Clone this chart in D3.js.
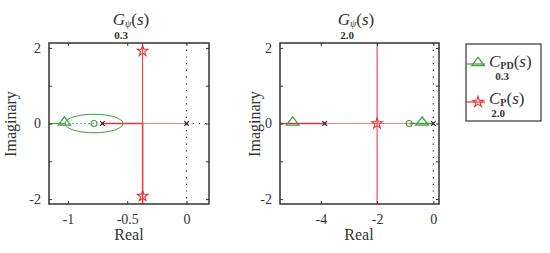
<!DOCTYPE html>
<html>
<head>
<meta charset="utf-8"/>
<script src="https://cdn.jsdelivr.net/npm/d3@7"></script>
<style>
html, body { margin: 0; padding: 0; background: #fff; }
svg text { font-family: "Liberation Serif", "DejaVu Serif", serif; fill: #333; }
</style>
</head>
<body>
<svg id="chart" width="550" height="253"></svg>
<script>
// ---- data ----
const gains = ["0.3", "2.0"];
const yTicks = [-2, 0, 2];
const yMinor = [-1, 1];
const leftXTicks = [-1, -0.5, 0];
const rightXTicks = [-4, -2, 0];

// left panel (0.3)
const leftPoles = [[-0.71, 0], [0, 0]];
const leftZeros = [[-0.78, 0]];
const leftPD = [[-1.03, 0]];
const leftP = [[-0.37, 1.92], [-0.37, -1.92]];
const leftCircle = [-0.78, 0.245];          // centre, radius of the PD locus
const leftGreenSolid = [[-1.16, 0], [-1.03, 0]];
const leftGreenDots = [[-1.03, 0], [-0.78, 0]];
const leftRedSolid = [[-0.71, 0], [-0.37, 0]];
const leftRedLight = [[-0.37, 0], [0, 0]];
const leftRedUp = [[-0.37, 0], [-0.37, 2.13]];
const leftRedDown = [[-0.37, 0], [-0.37, -2.13]];
const leftBlackDots = [[0, 0], [0.19, 0]];

// right panel (2.0)
const rightPoles = [[-3.86, 0], [0, 0]];
const rightZeros = [[-0.86, 0]];
const rightPD = [[-5.0, 0], [-0.4, 0]];
const rightP = [[-2.0, 0]];
const rightRedSolid = [[-5.45, 0], [-3.86, 0]];
const rightRedLight = [[-3.86, 0], [-0.86, 0]];
const rightGreenSolid = [[-0.86, 0], [0, 0]];
const rightRedVert = [[-2.0, -2.13], [-2.0, 2.13]];

const green = "#3f9c3f";
const red = "#e8333a";

const svg = d3.select("#chart");

const panels = [
  {x0: 49, x1: 209, dom: [-1.16, 0.19], ticks: leftXTicks, fmt: d => d === -1 ? "-1" : (d === 0 ? "0" : "-0.5"),
   titleX: 131, subX: 121, ylabX: 16, xlabX: 129, gain: gains[0],
   lines: [
     {pts: leftGreenSolid, c: green, w: 1.2},
     {pts: leftGreenDots, c: green, w: 1, dash: "1.5,2.5"},
     {pts: leftBlackDots, c: "#222", w: 1.2, dash: "1.2,5"},
     {pts: leftRedLight, c: red, w: 1, op: 0.6},
     {pts: leftRedSolid, c: red, w: 1.6},
     {pts: leftRedUp, c: red, w: 1},
     {pts: leftRedDown, c: red, w: 1.5}
   ],
   circle: leftCircle, poles: leftPoles, zeros: leftZeros, pd: leftPD, p: leftP},
  {x0: 280, x1: 439, dom: [-5.45, 0.2], ticks: rightXTicks, fmt: d => String(d),
   titleX: 356, subX: 347, ylabX: 260, xlabX: 359, gain: gains[1],
   lines: [
     {pts: rightRedLight, c: red, w: 1, op: 0.6},
     {pts: rightRedSolid, c: red, w: 1.6},
     {pts: rightGreenSolid, c: green, w: 1.5},
     {pts: rightRedVert, c: red, w: 1}
   ],
   circle: null, poles: rightPoles, zeros: rightZeros, pd: rightPD, p: rightP}
];

const y0 = 43, y1 = 204;
const star = d3.symbol().type(d3.symbolStar).size(36);
const tri = d3.symbol().type(d3.symbolTriangle).size(40);

panels.forEach(p => {
  const x = d3.scaleLinear().domain(p.dom).range([p.x0, p.x1]);
  const y = d3.scaleLinear().domain([-2.13, 2.13]).range([y1, y0]);
  const g = svg.append("g");
  const line = d3.line().x(d => x(d[0])).y(d => y(d[1]));

  g.append("defs").append("clipPath").attr("id", "clip" + p.x0)
    .append("rect").attr("x", p.x0).attr("y", y0).attr("width", p.x1 - p.x0).attr("height", y1 - y0);
  const plot = g.append("g").attr("clip-path", "url(#clip" + p.x0 + ")");

  // imaginary axis, dotted
  plot.append("line").attr("x1", x(0)).attr("x2", x(0)).attr("y1", y0).attr("y2", y1)
    .attr("stroke", "#222").attr("stroke-width", 1.2).attr("stroke-dasharray", "1.2,5.5");

  p.lines.forEach(l => {
    plot.append("path").attr("d", line(l.pts)).attr("fill", "none")
      .attr("stroke", l.c).attr("stroke-width", l.w)
      .attr("stroke-opacity", l.op || 1)
      .attr("stroke-dasharray", l.dash || null);
  });

  if (p.circle) {
    plot.append("ellipse").attr("cx", x(p.circle[0])).attr("cy", y(0))
      .attr("rx", x(p.circle[0] + p.circle[1]) - x(p.circle[0]))
      .attr("ry", y(0) - y(p.circle[1]))
      .attr("fill", "none").attr("stroke", green).attr("stroke-width", 1);
  }

  // markers
  plot.selectAll(".zero").data(p.zeros).join("circle")
    .attr("cx", d => x(d[0])).attr("cy", d => y(d[1])).attr("r", 3)
    .attr("fill", "none").attr("stroke", green).attr("stroke-width", 1.1);
  plot.selectAll(".pole").data(p.poles).join("path")
    .attr("d", d => `M${x(d[0]) - 2.3},${y(d[1]) - 2.3}L${x(d[0]) + 2.3},${y(d[1]) + 2.3}M${x(d[0]) - 2.3},${y(d[1]) + 2.3}L${x(d[0]) + 2.3},${y(d[1]) - 2.3}`)
    .attr("stroke", "#222").attr("stroke-width", 1.2);
  plot.selectAll(".pd").data(p.pd).join("path")
    .attr("d", tri).attr("transform", d => `translate(${x(d[0])},${y(d[1]) - 1.2}) scale(1.3,1)`)
    .attr("fill", "none").attr("stroke", green).attr("stroke-width", 1.1);
  plot.selectAll(".p").data(p.p).join("path")
    .attr("d", star).attr("transform", d => `translate(${x(d[0])},${y(d[1])})`)
    .attr("fill", "none").attr("stroke", red).attr("stroke-width", 1.1);

  // frame
  g.append("rect").attr("x", p.x0).attr("y", y0).attr("width", p.x1 - p.x0).attr("height", y1 - y0)
    .attr("fill", "none").attr("stroke", "#333").attr("stroke-width", 1.5);

  // axes with inward ticks
  g.append("g").attr("transform", `translate(0,${y1})`)
    .call(d3.axisBottom(x).tickValues(p.ticks).tickSize(-3).tickPadding(8).tickFormat(p.fmt))
    .call(a => a.select(".domain").remove())
    .call(a => a.selectAll("text").attr("font-size", 14).attr("dy", "0.85em"));
  g.append("g").attr("transform", `translate(0,${y0})`)
    .call(d3.axisTop(x).tickValues(p.ticks).tickSize(-3).tickFormat(""))
    .call(a => a.select(".domain").remove());
  g.append("g").attr("transform", `translate(${p.x0},0)`)
    .call(d3.axisLeft(y).tickValues(yTicks.concat(yMinor)).tickSize(-3).tickPadding(8)
      .tickFormat(d => yTicks.includes(d) ? String(d) : ""))
    .call(a => a.select(".domain").remove())
    .call(a => a.selectAll("text").attr("font-size", 14));
  g.append("g").attr("transform", `translate(${p.x1},0)`)
    .call(d3.axisRight(y).tickValues(yTicks.concat(yMinor)).tickSize(-3).tickFormat(""))
    .call(a => a.select(".domain").remove());
  g.selectAll(".tick line").attr("stroke", "#333");

  // title
  const t = g.append("text").attr("x", p.titleX).attr("y", 25).attr("text-anchor", "middle").attr("font-size", 17);
  t.append("tspan").attr("font-style", "italic").text("G");
  t.append("tspan").attr("font-style", "italic").attr("font-size", 10).attr("dy", 2).text("ψ");
  t.append("tspan").attr("dy", -2).text("(");
  t.append("tspan").attr("font-style", "italic").text("s");
  t.append("tspan").text(")");
  g.append("text").attr("x", p.subX).attr("y", 39).attr("text-anchor", "middle")
    .attr("font-size", 11).attr("font-weight", "bold").text(p.gain);

  g.append("text").attr("transform", `translate(${p.ylabX},124) rotate(-90)`)
    .attr("text-anchor", "middle").attr("font-size", 16).text("Imaginary");
  g.append("text").attr("x", p.xlabX).attr("y", 240).attr("text-anchor", "middle")
    .attr("font-size", 16).text("Real");
});

// legend
const leg = svg.append("g");
leg.append("rect").attr("x", 466).attr("y", 44).attr("width", 75).attr("height", 77)
  .attr("fill", "#fff").attr("stroke", "#333").attr("stroke-width", 1.2);
const entries = [
  {label: "PD", gain: gains[0], c: green, sym: tri, sy: 1.3, ly: 64, ty: 67, gy: 80, gx: 502},
  {label: "P", gain: gains[1], c: red, sym: star, sy: 1, ly: 102, ty: 104, gy: 117, gx: 498}
];
entries.forEach(e => {
  leg.append("line").attr("x1", 466).attr("x2", 485).attr("y1", e.ly).attr("y2", e.ly)
    .attr("stroke", e.c).attr("stroke-width", 1.2);
  leg.append("path").attr("d", e.sym)
    .attr("transform", `translate(478,${e.ly - (e.sym === tri ? 1.2 : 0)}) scale(${e.sy},1)`)
    .attr("fill", "none").attr("stroke", e.c).attr("stroke-width", 1.1);
  const t = leg.append("text").attr("x", 489).attr("y", e.ty).attr("font-size", 17);
  t.append("tspan").attr("font-style", "italic").text("C");
  t.append("tspan").attr("font-size", 10).attr("font-weight", "bold").attr("dy", 2).text(e.label);
  t.append("tspan").attr("dy", -2).text("(");
  t.append("tspan").attr("font-style", "italic").text("s");
  t.append("tspan").text(")");
  leg.append("text").attr("x", e.gx).attr("y", e.gy).attr("text-anchor", "middle")
    .attr("font-size", 11).attr("font-weight", "bold").text(e.gain);
});
</script>
</body>
</html>
